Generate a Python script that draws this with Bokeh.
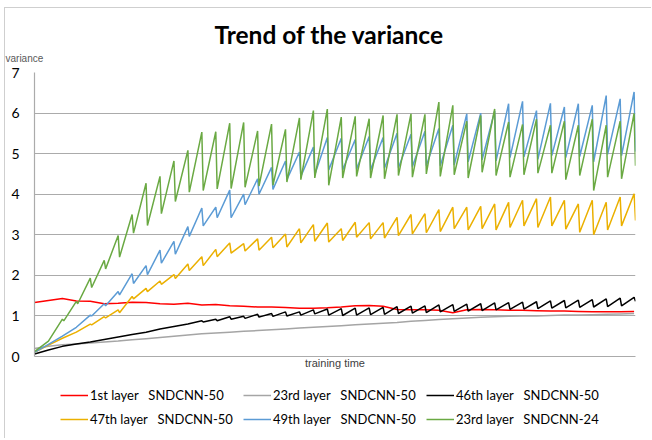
from bokeh.plotting import figure
from bokeh.layouts import column
from bokeh.models import Range1d, FixedTicker, Legend, LegendItem, Title
from bokeh.embed import file_html
from bokeh.resources import INLINE

# ---------------- data ----------------
epochs = list(range(44))          # training time, one sawtooth cycle per unit
y_ticks = [0, 1, 2, 3, 4, 5, 6, 7]

series_names = [
    "1st layer   SNDCNN-50",
    "23rd layer   SNDCNN-50",
    "46th layer   SNDCNN-50",
    "47th layer   SNDCNN-50",
    "49th layer   SNDCNN-50",
    "23rd layer   SNDCNN-24",
]

red_vals = [1.33, 1.38, 1.43, 1.37, 1.36, 1.30, 1.31, 1.34, 1.33, 1.30, 1.29,
            1.31, 1.27, 1.28, 1.25, 1.24, 1.22, 1.22, 1.21, 1.19, 1.19, 1.20,
            1.22, 1.25, 1.26, 1.24, 1.16, 1.15, 1.15, 1.14, 1.08, 1.15, 1.16,
            1.15, 1.14, 1.14, 1.13, 1.12, 1.12, 1.11, 1.10, 1.10, 1.10, 1.11]

gray_vals = [0.20, 0.25, 0.29, 0.31, 0.33, 0.36, 0.38, 0.41, 0.44, 0.47, 0.50,
             0.53, 0.56, 0.58, 0.60, 0.62, 0.64, 0.66, 0.68, 0.70, 0.72, 0.74,
             0.76, 0.78, 0.80, 0.82, 0.84, 0.87, 0.89, 0.91, 0.93, 0.95, 0.97,
             0.98, 0.99, 1.00, 1.00, 1.01, 1.02, 1.02, 1.03, 1.04, 1.05, 1.06]

black_peak = [0.06, 0.16, 0.25, 0.31, 0.36, 0.42, 0.48, 0.54, 0.60, 0.68, 0.74,
              0.80, 0.88, 0.92, 0.98, 0.99, 1.04, 1.06, 1.10, 1.10, 1.15, 1.17,
              1.18, 1.19, 1.20, 1.21, 1.23, 1.24, 1.25, 1.27, 1.28, 1.29, 1.30,
              1.32, 1.33, 1.34, 1.35, 1.37, 1.38, 1.39, 1.40, 1.42, 1.44, 1.46]
black_trough = [0.06, 0.16, 0.25, 0.31, 0.36, 0.42, 0.48, 0.54, 0.60, 0.68, 0.74,
                0.80, 0.85, 0.88, 0.92, 0.94, 0.97, 0.99, 1.00, 1.02, 1.05, 1.02,
                1.01, 1.02, 1.03, 1.04, 1.06, 1.07, 1.08, 1.10, 1.11, 1.12, 1.13,
                1.15, 1.16, 1.17, 1.18, 1.19, 1.20, 1.21, 1.22, 1.23, 1.25, 1.36]

yellow_peak = [0.10, 0.28, 0.45, 0.60, 0.80, 0.98, 1.15, 1.48, 1.68, 1.86, 2.02,
               2.28, 2.46, 2.64, 2.80, 2.78, 2.90, 2.94, 3.02, 3.15, 3.25, 3.29,
               3.15, 3.31, 3.30, 3.30, 3.43, 3.50, 3.52, 3.62, 3.68, 3.68, 3.70,
               3.76, 3.80, 3.85, 3.89, 3.93, 3.85, 3.76, 3.85, 3.80, 3.93, 4.01]
yellow_trough = [0.10, 0.28, 0.45, 0.60, 0.78, 0.95, 1.08, 1.42, 1.60, 1.78, 1.92,
                 2.12, 2.24, 2.46, 2.55, 2.60, 2.62, 2.68, 2.70, 2.80, 2.84, 2.82,
                 2.86, 2.94, 2.90, 2.92, 2.98, 3.02, 3.05, 3.08, 3.15, 3.12, 3.15,
                 3.12, 3.18, 3.22, 3.18, 3.22, 3.14, 3.06, 3.00, 3.12, 3.22, 3.35]

blue_peak = [0.10, 0.30, 0.50, 0.72, 1.02, 1.30, 1.60, 2.04, 2.24, 2.62, 2.84,
             3.20, 3.66, 3.68, 4.10, 4.00, 4.38, 4.66, 4.82, 5.04, 5.16, 5.40,
             5.38, 5.35, 5.42, 5.40, 5.50, 5.48, 5.55, 5.62, 5.70, 5.98, 6.00,
             6.05, 6.23, 6.29, 6.06, 6.24, 6.15, 6.23, 6.19, 6.43, 6.35, 6.52]
blue_trough = [0.10, 0.30, 0.50, 0.72, 1.00, 1.25, 1.52, 1.80, 2.02, 2.30, 2.52,
               2.96, 3.22, 3.42, 3.42, 3.74, 4.00, 4.12, 4.36, 4.44, 4.48, 4.60,
               4.60, 4.62, 4.60, 4.64, 4.65, 4.68, 4.70, 4.70, 4.72, 4.80, 4.85,
               4.82, 4.90, 4.92, 4.86, 4.95, 4.90, 4.93, 4.80, 4.98, 4.95, 5.05]

green_peak = [0.12, 0.38, 0.92, 1.36, 1.93, 2.37, 2.98, 3.50, 4.27, 4.44, 4.82,
              5.08, 5.53, 5.54, 5.75, 5.77, 5.56, 5.73, 5.60, 5.88, 6.06, 6.10,
              5.90, 5.92, 5.86, 5.94, 5.97, 5.98, 5.97, 6.27, 6.19, 5.80, 5.94,
              6.10, 5.78, 5.72, 5.85, 5.70, 5.80, 5.70, 5.85, 5.70, 5.80, 5.99]
green_trough = [0.12, 0.38, 0.88, 1.30, 1.70, 2.16, 2.45, 3.04, 3.23, 3.52, 3.82,
                4.05, 4.09, 4.13, 4.14, 4.17, 4.20, 4.22, 4.30, 4.36, 4.40, 4.22,
                4.40, 4.44, 4.40, 4.38, 4.46, 4.42, 4.50, 4.44, 4.48, 4.40, 4.54,
                4.46, 4.42, 4.48, 4.52, 4.52, 4.36, 4.46, 4.09, 4.42, 4.38, 4.70]

colors = ["#ff0000", "#a5a5a5", "#000000", "#ebb000", "#5b9bd5", "#6aa943"]

DROP = 0.1  # width of the fall at the end of each cycle (in training-time units)


def sawtooth_path(t, peaks, troughs):
    xs, ys = [], []
    for k, pk, tr in zip(t, peaks, troughs):
        xs.append(k)
        ys.append(pk)
        if tr != pk:
            xs.append(k + DROP)
            ys.append(tr)
    return xs, ys


series = [
    (red_vals, red_vals),
    (gray_vals, gray_vals),
    (black_peak, black_trough),
    (yellow_peak, yellow_trough),
    (blue_peak, blue_trough),
    (green_peak, green_trough),
]

# ---------------- main chart ----------------
p = figure(
    width=646, height=366,
    output_backend="svg", toolbar_location=None,
    x_range=Range1d(0, epochs[-1] + DROP), y_range=Range1d(y_ticks[0], y_ticks[-1]),
    min_border_left=29, min_border_right=16, min_border_top=64, min_border_bottom=18,
    title=None,
)
p.outline_line_color = None
p.background_fill_color = "white"
p.border_fill_color = "white"

# small "variance" caption (closest to the frame), then the main title above it
p.add_layout(Title(
    text="variance", align="left", offset=-29, standoff=17,
    text_font="Liberation Sans", text_font_style="normal", text_font_size="10px",
    text_color="#595959",
), "above")
p.add_layout(Title(
    text="Trend of the variance", align="left", offset=180, standoff=-12,
    text_font="Lato", text_font_style="bold", text_font_size="24.5px",
    text_color="#000000",
), "above")

p.xgrid.visible = False
p.ygrid.ticker = FixedTicker(ticks=y_ticks)
p.ygrid.grid_line_color = "#ababab"
p.ygrid.grid_line_width = 1.2

p.yaxis.ticker = FixedTicker(ticks=y_ticks)
p.yaxis.major_tick_out = 0
p.yaxis.major_tick_in = 0
p.yaxis.minor_tick_out = 0
p.yaxis.minor_tick_in = 0
p.yaxis.major_label_standoff = 15
p.yaxis.major_label_text_font = "Lato"
p.yaxis.major_label_text_font_size = "14px"
p.yaxis.major_label_text_color = "#000000"
p.yaxis.axis_line_color = "#ababab"
p.yaxis.axis_line_width = 1.2

p.xaxis.ticker = FixedTicker(ticks=[])
p.xaxis.major_tick_out = 0
p.xaxis.major_tick_in = 0
p.xaxis.minor_tick_out = 0
p.xaxis.minor_tick_in = 0
p.xaxis.major_label_standoff = 0
p.xaxis.axis_label = "training time"
p.xaxis.axis_label_standoff = 0
p.xaxis.axis_label_text_font = "Liberation Sans"
p.xaxis.axis_label_text_font_style = "normal"
p.xaxis.axis_label_text_font_size = "11px"
p.xaxis.axis_label_text_color = "#404040"
p.xaxis.axis_line_color = "#ababab"
p.xaxis.axis_line_width = 1.2

for (pk, tr), col in zip(series, colors):
    xs, ys = sawtooth_path(epochs, pk, tr)
    p.line(xs, ys, line_color=col, line_width=1.5)

# ---------------- legend strip (its own small figure) ----------------
leg = figure(
    width=646, height=64,
    output_backend="svg", toolbar_location=None,
    x_range=Range1d(0, 1), y_range=Range1d(0, 1),
    x_axis_type=None, y_axis_type=None, min_border=0, title=None,
)
leg.outline_line_color = None
leg.xgrid.visible = False
leg.ygrid.visible = False
leg.background_fill_color = "white"
leg.border_fill_color = "white"

items = []
for name, (pk, tr), col in zip(series_names, series, colors):
    # a one-point line draws nothing itself but gives the legend its sample
    r = leg.line(x=epochs[:1], y=pk[:1], line_color=col, line_width=1.5)
    items.append(LegendItem(label=name, renderers=[r]))

legend = Legend(
    items=items, orientation="horizontal", nrows=2,
    location=(26, 9),
    glyph_width=28, glyph_height=20, label_height=20, label_width=149,
    label_standoff=2, spacing=4, padding=0, margin=0,
    label_text_font="Lato", label_text_font_size="13px", label_text_color="#000000",
    border_line_color=None, background_fill_alpha=0,
)
leg.add_layout(legend)

layout = column(p, leg, spacing=0)
layout.styles = {"margin-left": "4px", "margin-top": "7px",
                 "border-left": "1px solid #cfcfcf", "border-top": "1px solid #cfcfcf"}

open("out.html", "w").write(file_html(layout, INLINE))
